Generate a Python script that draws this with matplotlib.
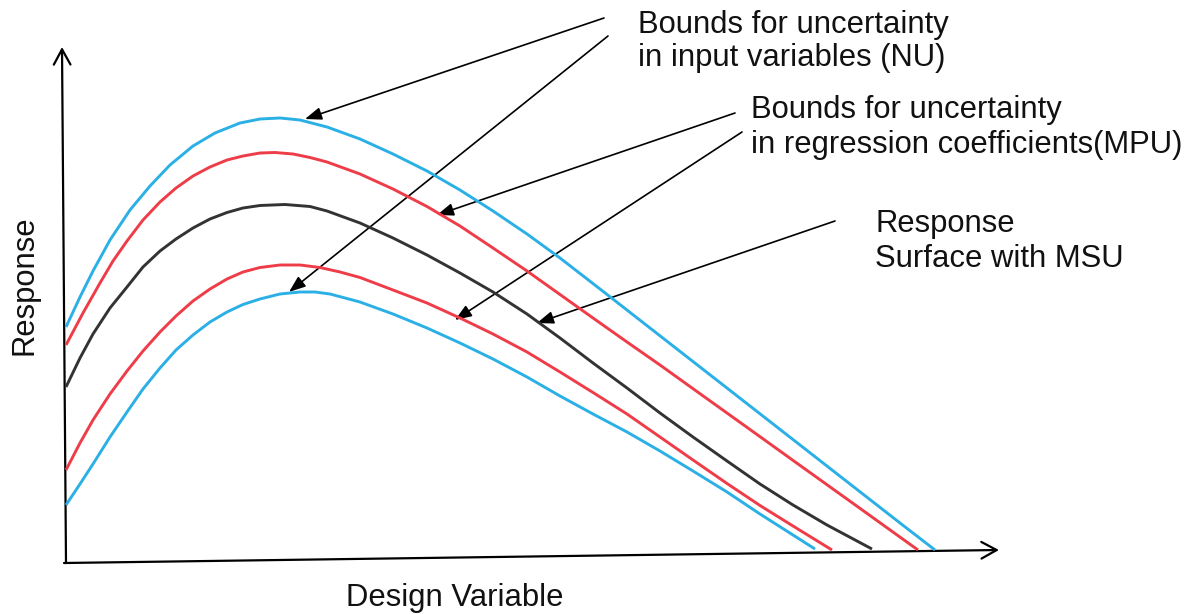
import matplotlib
matplotlib.use("Agg")
import matplotlib.pyplot as plt
from matplotlib.patches import FancyArrowPatch

# ---- data (schematic; x = design variable, y = response, image units) ----
nu_upper_x = [66, 80, 93, 110, 130, 150, 170, 193, 215, 240, 260, 280, 300, 327, 360, 393, 427, 460, 493, 527, 560, 600, 650, 700, 750, 800, 850, 900, 935]
nu_upper_y = [327, 297, 271, 240, 210, 186, 165, 146, 133, 123, 119, 118, 120, 127, 139, 154, 171, 190, 211, 234, 258, 289, 328, 367, 406, 445, 484, 523, 550]

mpu_upper_x = [66, 83, 100, 113, 127, 143, 160, 176, 193, 210, 227, 243, 260, 275, 293, 310, 327, 360, 393, 427, 460, 493, 527, 560, 593, 627, 660, 700, 750, 800, 850, 918]
mpu_upper_y = [345, 313, 283, 261, 241, 220, 202, 188, 176, 167, 160, 156, 153, 152.5, 154, 157.5, 162, 174, 189, 206.5, 226, 248, 271, 294.5, 318, 342, 365, 393.7, 429.5, 465.4, 501.2, 550]

msu_x = [66, 80, 93, 110, 127, 143, 160, 176, 193, 210, 227, 243, 260, 285, 310, 327, 360, 393, 427, 460, 493, 527, 560, 593, 627, 660, 693, 727, 760, 793, 827, 857, 872]
msu_y = [387, 358, 334, 308, 287, 267, 251, 239, 228, 219, 212.5, 208, 205.5, 204.5, 206.5, 211, 223, 238, 255, 273, 292, 314, 338, 363, 388, 413, 437, 461, 484, 505, 525, 541, 549]

mpu_lower_x = [66, 80, 93, 110, 127, 143, 160, 176, 193, 210, 227, 243, 260, 280, 300, 320, 340, 360, 393, 427, 460, 493, 527, 560, 593, 627, 660, 693, 727, 760, 793, 832]
mpu_lower_y = [470, 443, 420, 394, 371, 351, 332, 316, 301, 289, 279, 272, 267.5, 265, 265, 267.5, 272, 277.5, 290, 303, 318, 334, 352, 372, 392.5, 414, 437, 460, 483.5, 505.5, 526, 550]

nu_lower_x = [66, 80, 93, 110, 127, 143, 160, 176, 193, 210, 227, 243, 260, 280, 300, 315, 330, 360, 393, 427, 460, 493, 527, 560, 593, 627, 660, 693, 727, 760, 793, 815]
nu_lower_y = [505, 484, 464, 437, 412, 389, 368, 350, 335, 322, 312, 304.5, 299, 294, 292, 292, 294, 302, 314, 328, 343, 359, 377, 396, 414, 432, 451, 471, 492, 514, 535, 549]

label_nu = ["Bounds for uncertainty", "in input variables (NU)"]
label_mpu = ["Bounds for uncertainty", "in regression coefficients(MPU)"]
label_msu = ["Response", "Surface with MSU"]
x_label = "Design Variable"
y_label = "Response"

# annotation arrows: (start, tip)
arrows_nu = [((604, 18), (305, 119)), ((608, 36), (289, 292))]
arrows_mpu = [((735, 113), (437, 215)), ((742, 132), (455, 320))]
arrows_msu = [((835, 221), (537, 323))]

BLUE = "#2bb0e6"
RED = "#ee3d48"
DARK = "#333333"

fig = plt.figure(figsize=(11.93, 6.14), dpi=100)
ax = fig.add_axes([0, 0, 1, 1])
ax.set_xlim(0, 1193)
ax.set_ylim(614, 0)
ax.axis("off")

lw = 2.1
kw = dict(lw=lw, solid_joinstyle="round", solid_capstyle="butt")
ax.plot(nu_upper_x, nu_upper_y, color=BLUE, **kw)
ax.plot(mpu_upper_x, mpu_upper_y, color=RED, **kw)
ax.plot(msu_x, msu_y, color=DARK, **kw)
ax.plot(mpu_lower_x, mpu_lower_y, color=RED, **kw)
ax.plot(nu_lower_x, nu_lower_y, color=BLUE, **kw)

# axes with open arrow heads
for (p0, p1) in [((66, 563), (62, 47)), ((64, 563), (999, 550))]:
    ax.add_patch(FancyArrowPatch(p0, p1, arrowstyle="->,head_length=1.1,head_width=0.6",
                                 mutation_scale=10, lw=1.6, color="black",
                                 shrinkA=0, shrinkB=0))

# annotation arrows
for group in (arrows_nu, arrows_mpu, arrows_msu):
    for (s, t) in group:
        ax.add_patch(FancyArrowPatch(s, t, arrowstyle="-|>,head_length=1.0,head_width=0.38",
                                     mutation_scale=10, lw=1.2, color="black",
                                     shrinkA=0, shrinkB=0))

font = dict(family=["Liberation Sans", "DejaVu Sans"], fontsize=22.3, color="#111111")

def lines(x, y0, texts, dy):
    for i, t in enumerate(texts):
        ax.text(x, y0 + i * dy, t, ha="left", va="baseline", **font)

lines(638, 33, label_nu, 33)
lines(751, 118, label_mpu, 35)
lines(875, 232, label_msu, 35)

ax.text(455, 606, x_label, ha="center", va="baseline", **font)
ax.text(33, 285, y_label, ha="center", va="baseline", rotation=90,
        rotation_mode="anchor", **font)

fig.savefig("out.png", dpi=100)
